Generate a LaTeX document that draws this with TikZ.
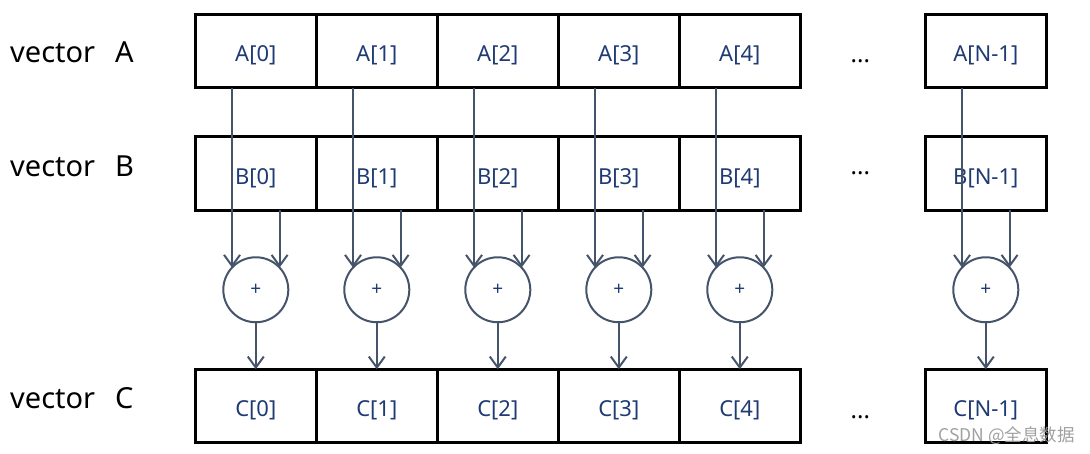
\documentclass[tikz,border=0pt]{standalone}
\usepackage{fontspec}
\setmainfont{Noto Sans}
\newfontfamily\cjkfont{Noto Sans CJK SC}
\usetikzlibrary{arrows.meta,positioning}
\definecolor{ink}{HTML}{1F3B73}
\definecolor{wire}{HTML}{45546A}
\definecolor{mark}{HTML}{A0A0A0}

\begin{document}
\begin{tikzpicture}[x=1pt,y=1pt,>={Straight Barb[length=11pt,width=16pt]},
		cell/.style={draw,line width=3pt,outer sep=0pt,minimum width=121pt,minimum height=73.5pt,inner sep=0pt,text height=25pt,text depth=4pt,text=ink,font=\fontsize{22}{26}\selectfont},
		adder/.style={circle,draw=wire,line width=2pt,outer sep=0pt,minimum size=65pt,inner sep=0pt,text=ink,font=\fontsize{19}{20}\selectfont},
		flow/.style={->,color=wire,line width=2pt},
		vname/.style={anchor=base west,inner sep=0pt,font=\fontsize{29}{32}\selectfont},
		gap/.style={inner sep=0pt,font=\fontsize{24}{28}\selectfont},
		node distance=47pt]
		\useasboundingbox (0,0) rectangle (1090,-453);
		% row labels
		\node[vname] (v_a) at (10,-62.7) {vector\ \ \,A};
		\node[vname] (v_b) at (10,-176.7) {vector\ \ \,B};
		\node[vname] (v_c) at (10,-408.3) {vector\ \ \,C};
		% vector A
		\node[cell] (a_0) at (255.8,-51) {A[0]};
		\node[cell] [right=0pt of a_0] (a_1) {A[1]};
		\node[cell] [right=0pt of a_1] (a_2) {A[2]};
		\node[cell] [right=0pt of a_2] (a_3) {A[3]};
		\node[cell] [right=0pt of a_3] (a_4) {A[4]};
		\node[cell] [right=125pt of a_4] (a_N) {A[N-1]};
		% vector B
		\node[cell] [below=49pt of a_0] (b_0) {B[0]};
		\node[cell] [right=0pt of b_0] (b_1) {B[1]};
		\node[cell] [right=0pt of b_1] (b_2) {B[2]};
		\node[cell] [right=0pt of b_2] (b_3) {B[3]};
		\node[cell] [right=0pt of b_3] (b_4) {B[4]};
		\node[cell] [below=49pt of a_N] (b_N) {B[N-1]};
		% adders
		\node[adder] [below=of b_0] (p_0) {+};
		\node[adder] [below=of b_1] (p_1) {+};
		\node[adder] [below=of b_2] (p_2) {+};
		\node[adder] [below=of b_3] (p_3) {+};
		\node[adder] [below=of b_4] (p_4) {+};
		\node[adder] [below=of b_N] (p_N) {+};
		% vector C
		\node[cell] [below=of p_0] (c_0) {C[0]};
		\node[cell] [right=0pt of c_0] (c_1) {C[1]};
		\node[cell] [right=0pt of c_1] (c_2) {C[2]};
		\node[cell] [right=0pt of c_2] (c_3) {C[3]};
		\node[cell] [right=0pt of c_3] (c_4) {C[4]};
		\node[cell] [below=of p_N] (c_N) {C[N-1]};
		% gaps
		\path (a_4) -- (a_N) node[gap,pos=0.48,yshift=-10pt] (d_a) {...};
		\path (b_4) -- (b_N) node[gap,pos=0.48] (d_b) {...};
		\path (c_4) -- (c_N) node[gap,pos=0.48,yshift=-11pt] (d_c) {...};
		% data flow
		\path[flow]
			(a_0.south -| p_0.137) edge (p_0.137)
			(b_0.south -| p_0.43) edge (p_0.43)
			(p_0) edge (c_0)
			(a_1.south -| p_1.137) edge (p_1.137)
			(b_1.south -| p_1.43) edge (p_1.43)
			(p_1) edge (c_1)
			(a_2.south -| p_2.137) edge (p_2.137)
			(b_2.south -| p_2.43) edge (p_2.43)
			(p_2) edge (c_2)
			(a_3.south -| p_3.137) edge (p_3.137)
			(b_3.south -| p_3.43) edge (p_3.43)
			(p_3) edge (c_3)
			(a_4.south -| p_4.137) edge (p_4.137)
			(b_4.south -| p_4.43) edge (p_4.43)
			(p_4) edge (c_4)
			(a_N.south -| p_N.137) edge (p_N.137)
			(b_N.south -| p_N.43) edge (p_N.43)
			(p_N) edge (c_N);
		\node[anchor=base east,inner sep=0pt,text=mark,font=\cjkfont\fontsize{17.5}{20}\selectfont] (w_m) at (1075,-441) {CSDN @全息数据};
	\end{tikzpicture}
\end{document}
